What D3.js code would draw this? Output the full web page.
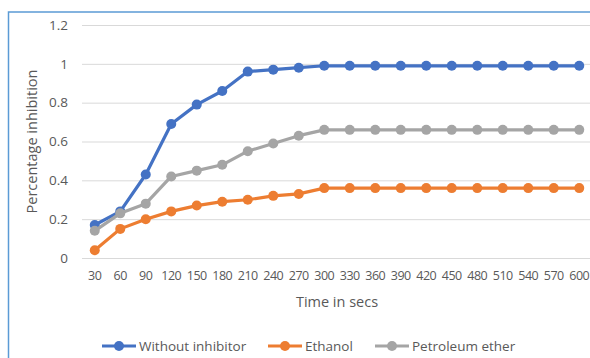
<!DOCTYPE html>
<html><head><meta charset="utf-8">
<script src="https://cdn.jsdelivr.net/npm/d3@7"></script>
<style>body{margin:0;background:#fff}svg{display:block}text{font-family:"Open Sans","Liberation Sans",sans-serif}</style>
</head><body><svg id="c" width="590" height="358"></svg>
<script>
const categories = [30,60,90,120,150,180,210,240,270,300,330,360,390,420,450,480,510,540,570,600];
const withoutInhibitor = [0.17,0.24,0.43,0.69,0.79,0.86,0.96,0.97,0.98,0.99,0.99,0.99,0.99,0.99,0.99,0.99,0.99,0.99,0.99,0.99];
const ethanol = [0.04,0.15,0.20,0.24,0.27,0.29,0.30,0.32,0.33,0.36,0.36,0.36,0.36,0.36,0.36,0.36,0.36,0.36,0.36,0.36];
const petroleumEther = [0.14,0.23,0.28,0.42,0.45,0.48,0.55,0.59,0.63,0.66,0.66,0.66,0.66,0.66,0.66,0.66,0.66,0.66,0.66,0.66];
const yTicks = [0,0.2,0.4,0.6,0.8,1,1.2];
const seriesNames = ["Without inhibitor","Ethanol","Petroleum ether"];
const colors = ["#4472C4","#ED7D31","#A5A5A5"];
const series = [withoutInhibitor, ethanol, petroleumEther];

const svg = d3.select("#c");
svg.append("rect").attr("x",8.5).attr("y",12).attr("width",600).attr("height",400)
  .attr("fill","none").attr("stroke","#5B9BD5").attr("stroke-width",1.5);

const x = d3.scaleBand().domain(categories).range([82,592]);
const y = d3.scaleLinear().domain([0,1.2]).range([258,25]);

const gy = svg.append("g").attr("transform","translate(82,0)")
  .call(d3.axisLeft(y).tickValues(yTicks).tickSize(-510).tickFormat(d3.format("~g")).tickPadding(14));
gy.select(".domain").remove();
gy.selectAll(".tick line").attr("stroke","#D9D9D9").attr("stroke-width",1);
gy.selectAll(".tick text").attr("fill","#595959").style("font-size","13.5px");

const gx = svg.append("g").attr("transform","translate(0,258)")
  .call(d3.axisBottom(x).tickSize(0).tickPadding(13));
gx.select(".domain").remove();
gx.selectAll(".tick text").attr("fill","#595959").style("font-size","12.5px").style("letter-spacing","-0.5px");

svg.append("text").attr("x",337).attr("y",307).attr("text-anchor","middle")
  .attr("fill","#595959").style("font-size","14.5px").text("Time in secs");
svg.append("text").attr("transform","translate(37,141.5) rotate(-90)").attr("text-anchor","middle")
  .attr("fill","#595959").style("font-size","14.5px").text("Percentage inhibition");

const line = d3.line().x((d,i)=>x(categories[i])+x.bandwidth()/2).y(d=>y(d));
series.forEach((s,k)=>{
  svg.append("path").datum(s).attr("d",line).attr("fill","none")
    .attr("stroke",colors[k]).attr("stroke-width",3.2).attr("stroke-linejoin","round");
  svg.append("g").selectAll("circle").data(s).join("circle")
    .attr("cx",(d,i)=>x(categories[i])+x.bandwidth()/2).attr("cy",d=>y(d))
    .attr("r",5).attr("fill",colors[k]);
});

const legX = [102,268,375];
seriesNames.forEach((n,k)=>{
  const g = svg.append("g").attr("transform",`translate(${legX[k]},346)`);
  g.append("line").attr("x1",0).attr("x2",34).attr("stroke",colors[k]).attr("stroke-width",3);
  g.append("circle").attr("cx",17).attr("r",5).attr("fill",colors[k]);
  g.append("text").attr("x",37).attr("y",5).attr("fill","#595959").style("font-size","13.5px").text(n);
});
</script></body></html>
